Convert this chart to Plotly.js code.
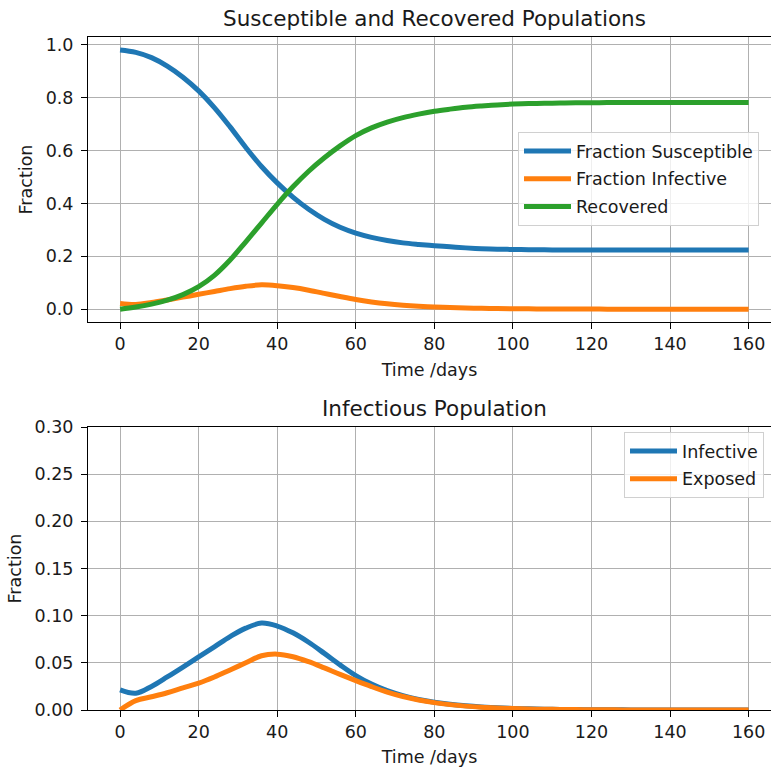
<!DOCTYPE html>
<html>
<head>
<meta charset="utf-8">
<script src="https://cdn.plot.ly/plotly-3.0.1.min.js"></script>
<style>html,body{margin:0;padding:0;background:#fff;}#chart{width:771px;height:767px;}</style>
</head>
<body>
<div id="chart"></div>
<script>
const days        = [0,4,8,12,16,20,24,28,32,36,40,44,48,52,56,60,64,68,72,76,80,84,88,92,96,100,104,108,112,116,120,124,128,132,136,140,144,148,152,156,160];
const susceptible = [0.981,0.972,0.952,0.920,0.878,0.826,0.763,0.690,0.612,0.540,0.478,0.424,0.378,0.340,0.310,0.288,0.272,0.260,0.251,0.245,0.240,0.236,0.232,0.229,0.227,0.226,0.225,0.2245,0.224,0.224,0.224,0.224,0.224,0.224,0.224,0.224,0.224,0.224,0.224,0.224,0.224];
const infective   = [0.0213,0.0178,0.0250,0.0350,0.0455,0.0563,0.0670,0.0778,0.0868,0.0921,0.0890,0.0818,0.0718,0.0600,0.0478,0.0365,0.0275,0.0205,0.0152,0.0112,0.0083,0.0061,0.0045,0.0033,0.0024,0.0017,0.0012,0.0009,0.0006,0.0004,0.0003,0.0002,0.00015,0.0001,0.0,0.0,0.0,0.0,0.0,0.0,0.0];
const exposed     = [0.0,0.0100,0.0140,0.0183,0.0235,0.0285,0.0350,0.0425,0.0500,0.0575,0.0592,0.0565,0.0512,0.0446,0.0377,0.0311,0.0248,0.0190,0.0143,0.0106,0.0078,0.0057,0.0041,0.0030,0.0022,0.0016,0.0011,0.0008,0.0006,0.0004,0.0003,0.0002,0.0001,0.0,0.0,0.0,0.0,0.0,0.0,0.0,0.0];
const recovered   = [0.0,0.008,0.019,0.034,0.055,0.085,0.128,0.186,0.255,0.326,0.397,0.463,0.522,0.573,0.618,0.657,0.686,0.708,0.725,0.738,0.749,0.757,0.764,0.769,0.773,0.776,0.778,0.779,0.780,0.781,0.781,0.782,0.782,0.782,0.782,0.782,0.782,0.782,0.782,0.782,0.782];
const xTicks = [0,20,40,60,80,100,120,140,160];
const yTicksTop = [0,0.2,0.4,0.6,0.8,1.0];
const yTicksBottom = [0,0.05,0.10,0.15,0.20,0.25,0.30];

const blue = '#1f77b4', orange = '#ff7f0e', green = '#2ca02c';
const font = 'DejaVu Sans, sans-serif';
const lw = 5;
const fs = 17.5;

const traces = [
  {x: days, y: susceptible, name: 'Fraction Susceptible', mode: 'lines', line: {color: blue, width: lw, shape: 'spline'}, xaxis: 'x', yaxis: 'y', legend: 'legend', legendgroup: 'a'},
  {x: days, y: infective, name: 'Fraction Infective', mode: 'lines', line: {color: orange, width: lw, shape: 'spline'}, xaxis: 'x', yaxis: 'y', legend: 'legend', legendgroup: 'b'},
  {x: days, y: recovered, name: 'Recovered', mode: 'lines', line: {color: green, width: lw, shape: 'spline'}, xaxis: 'x', yaxis: 'y', legend: 'legend', legendgroup: 'c'},
  {x: days, y: infective, name: 'Infective', mode: 'lines', line: {color: blue, width: lw, shape: 'spline'}, xaxis: 'x2', yaxis: 'y2', legend: 'legend2', legendgroup: 'd'},
  {x: days, y: exposed, name: 'Exposed', mode: 'lines', line: {color: orange, width: lw, shape: 'spline'}, xaxis: 'x2', yaxis: 'y2', legend: 'legend2', legendgroup: 'e'}
];

const H = 767, W = 771, L = 88;
function yd(topPx, botPx){ return [(H - botPx)/H, (H - topPx)/H]; }
const tcol = '#1a1a1a';

const xCommon = {
  range: [-8.17, 165.7], tickvals: xTicks, ticks: 'outside', ticklen: 6, tickcolor: '#000', tickwidth: 1,
  showgrid: true, gridcolor: '#b0b0b0', gridwidth: 1, zeroline: false,
  showline: true, linecolor: '#000', linewidth: 1, mirror: true,
  tickfont: {family: font, size: fs, color: tcol}, automargin: false,
  title: {text: 'Time /days', font: {family: font, size: fs, color: tcol}, standoff: 10}
};
const yCommon = {
  ticks: 'outside', ticklen: 6, tickcolor: '#000', tickwidth: 1,
  showgrid: true, gridcolor: '#b0b0b0', gridwidth: 1, zeroline: false,
  showline: true, linecolor: '#000', linewidth: 1,
  tickfont: {family: font, size: fs, color: tcol}, automargin: false, ticklabelstandoff: 4,
  title: {text: 'Fraction', font: {family: font, size: fs, color: tcol}, standoff: 8}
};

const legendCommon = {xanchor: 'left', yanchor: 'top', bgcolor: 'rgba(255,255,255,0.8)', bordercolor: '#d0d0d0', borderwidth: 1, font: {family: font, size: fs, color: tcol}, tracegroupgap: 2, itemwidth: 47};

const layout = {
  width: W, height: H,
  margin: {l: L, r: 0, t: 0, b: 0},
  paper_bgcolor: '#fff', plot_bgcolor: '#fff',
  font: {family: font, color: tcol},
  xaxis: Object.assign({}, xCommon, {domain: [0,1], anchor: 'y'}),
  yaxis: Object.assign({}, yCommon, {domain: yd(37, 322), range: [-0.0485, 1.030], tickvals: yTicksTop, ticktext: yTicksTop.map(v=>v.toFixed(1)), anchor: 'x'}),
  xaxis2: Object.assign({}, xCommon, {domain: [0,1], anchor: 'y2'}),
  yaxis2: Object.assign({}, yCommon, {domain: yd(427, 710), range: [0, 0.3], tickvals: yTicksBottom, ticktext: yTicksBottom.map(v=>v.toFixed(2)), anchor: 'x2'}),
  legend: Object.assign({}, legendCommon, {x: (518-L)/(W-L), y: 1-132/H}),
  legend2: Object.assign({}, legendCommon, {x: (624-L)/(W-L), y: 1-432/H}),
  showlegend: true,
  annotations: [
    {text: 'Susceptible and Recovered Populations', xref: 'paper', yref: 'paper', x: (434.5-L)/(W-L), y: 1-18.5/H, xanchor: 'center', yanchor: 'middle', showarrow: false, font: {family: font, size: 21.5, color: tcol}},
    {text: 'Infectious Population', xref: 'paper', yref: 'paper', x: (434.5-L)/(W-L), y: 1-408.5/H, xanchor: 'center', yanchor: 'middle', showarrow: false, font: {family: font, size: 21.5, color: tcol}}
  ]
};

Plotly.newPlot('chart', traces, layout, {displayModeBar: false, staticPlot: true});
</script>
</body>
</html>
